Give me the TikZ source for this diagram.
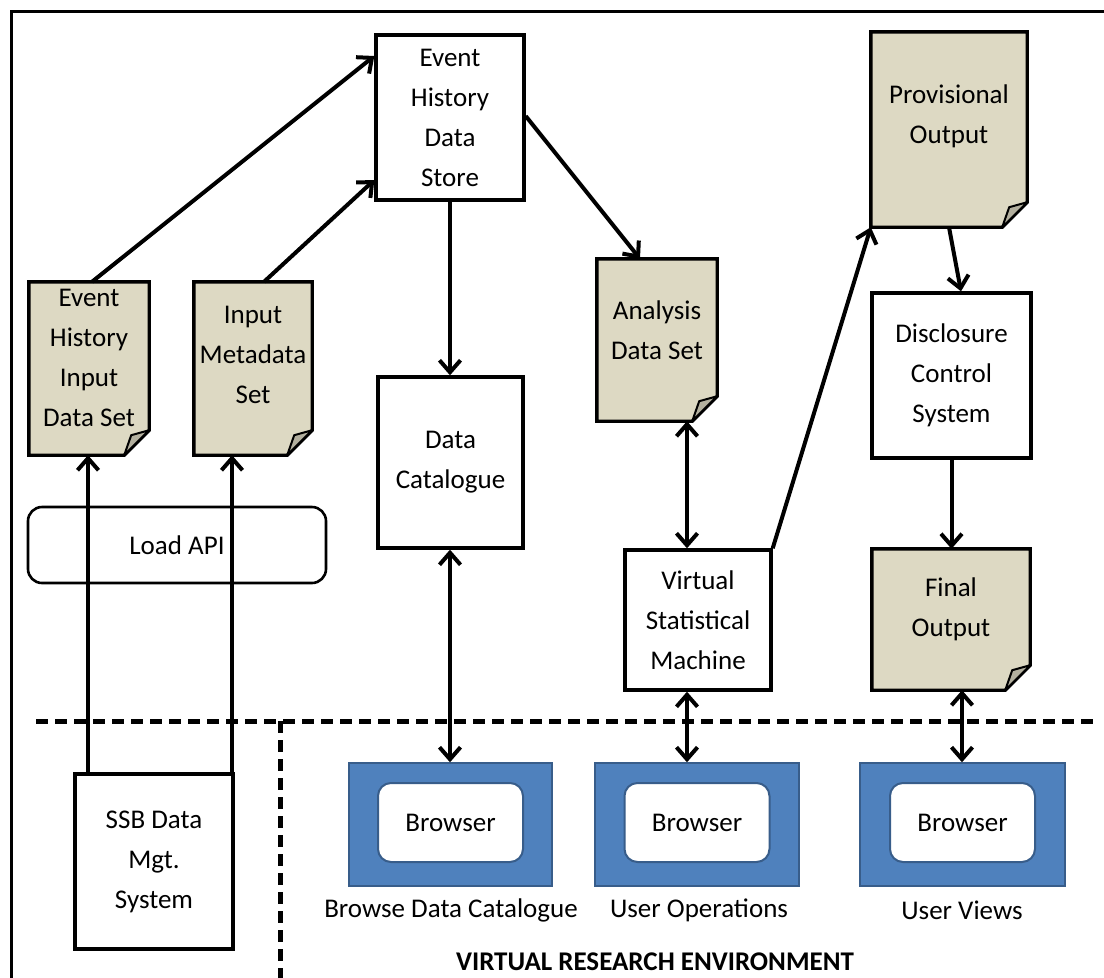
\documentclass[tikz,border=0pt]{standalone}
\usepackage{fontspec}
\setmainfont{Carlito}
\usetikzlibrary{arrows.meta}
\definecolor{tan}{HTML}{DDD9C3}
\definecolor{foldc}{HTML}{B3B09F}
\definecolor{bblue}{HTML}{4F81BD}
\definecolor{bdark}{HTML}{385D8A}
\newcommand{\foldsz}{25pt}
\newcommand{\mydoc}[5]{%
  \node[docnode, minimum width=#4pt, minimum height=#5pt] (#1) at (#2,#3) {};
  \draw[docline] (#1.north west) -- (#1.north east) -- ([yshift=\foldsz]#1.south east)
     -- ([xshift=-\foldsz]#1.south east) -- (#1.south west) -- cycle;
  \draw[foldline] ([xshift=-\foldsz]#1.south east) -- ([xshift=-18pt,yshift=20pt]#1.south east)
     -- ([yshift=\foldsz]#1.south east) -- cycle;
}
\begin{document}
\begin{tikzpicture}[x=1pt,y=-1pt,
  every node/.style={font=\fontsize{27}{40}\selectfont, align=center, inner sep=0pt},
  docnode/.style={draw=none},
  docline/.style={fill=tan, draw=black, line width=3.4pt, line join=miter},
  foldline/.style={fill=foldc, draw=black, line width=2pt, line join=round},
  txt/.style={},
  boxnode/.style={draw=black, fill=white, line width=3.4pt},
  apibox/.style={draw=black, fill=white, line width=2.6pt, rounded corners=14pt},
  outerb/.style={draw=bdark, fill=bblue, line width=1.5pt},
  innerb/.style={draw=bdark, fill=white, line width=2pt, rounded corners=13pt},
  arr/.style={line width=4pt, -{Straight Barb[length=12pt,width=21pt]}},
  dbl/.style={line width=4pt, {Straight Barb[length=12pt,width=21pt]}-{Straight Barb[length=12pt,width=21pt]}},
  sepline/.style={line width=5pt, dash pattern=on 12pt off 7pt}
]
\useasboundingbox (0,0) rectangle (1104,978);
\fill[white] (0,0) rectangle (1104,978);
% outer frame
\coordinate (fa) at (11,978);
\coordinate (fb) at (11,11);
\coordinate (fc) at (1104,11);
\draw[line width=3pt] (fa) -- (fb) -- (fc);

% dashed separators
\coordinate (h1) at (36,721);
\coordinate (h2) at (1097,721);
\coordinate (v1) at (280,721);
\coordinate (v2) at (280,978);
\draw[sepline] (h1) -- (h2);
\draw[sepline] (v1) -- (v2);

% Load API
\node[apibox, minimum width=298pt, minimum height=76pt] (api) at (177,545) {Load API};

% boxes
\node[boxnode, minimum width=148pt, minimum height=165pt] (ehds) at (450,117.5) {Event\\History\\Data\\Store};
\node[boxnode, minimum width=145pt, minimum height=171pt] (dc) at (450.5,462.5) {Data\\Catalogue};
\node[boxnode, minimum width=159pt, minimum height=165pt] (dcs) at (951.5,375.5) {Disclosure\\Control\\System};
\node[boxnode, minimum width=146pt, minimum height=140pt] (vsm) at (698,620) {Virtual\\Statistical\\Machine};
\node[boxnode, minimum width=158pt, minimum height=175pt] (ssb) at (154,861.5) {SSB Data\\Mgt.\\System};

% documents
\mydoc{ehi}{89}{368.5}{120}{173}
\node[txt] (ehit) at (89,358) {Event\\History\\Input\\Data Set};
\mydoc{ims}{253}{368.5}{118}{173}
\node[txt] (imst) at (253,355) {Input\\Metadata\\Set};
\mydoc{ads}{657}{340}{120}{162}
\node[txt] (adst) at (657,330) {Analysis\\Data Set};
\mydoc{po}{949}{129.5}{156}{195}
\node[txt] (pot) at (949,116) {Provisional\\Output};
\mydoc{fo}{951}{619.5}{158}{141}
\node[txt] (fot) at (951,609) {Final\\Output};

% browsers
\node[outerb, minimum width=203pt, minimum height=123pt] (b1) at (450.5,824.5) {};
\node[innerb, minimum width=145pt, minimum height=79pt] (b1i) at (450.5,822.5) {Browser};
\node[outerb, minimum width=204pt, minimum height=123pt] (b2) at (697,824.5) {};
\node[innerb, minimum width=145pt, minimum height=79pt] (b2i) at (697,822.5) {Browser};
\node[outerb, minimum width=205pt, minimum height=123pt] (b3) at (962.5,824.5) {};
\node[innerb, minimum width=145pt, minimum height=79pt] (b3i) at (962.5,822.5) {Browser};

\node (l1) at (451,910) {Browse Data Catalogue};
\node (l2) at (699,910) {User Operations};
\node (l3) at (962,910) {User Views};
\node[font=\fontsize{27}{40}\selectfont\bfseries] (vre) at (655,962) {VIRTUAL RESEARCH ENVIRONMENT};

% connectors
\draw[arr] (ssb.north -| 88,0) -- (ehi.south -| 88,0);
\draw[arr] (ssb.north -| 232,0) -- (ims.south -| 232,0);
\draw[arr] (ehi.north -| 92,0) -- (ehds.west |- 0,56);
\draw[arr] (ims.north -| 264,0) -- (ehds.west |- 0,180);
\draw[arr] (ehds.south) -- (dc.north -| ehds.south);
\draw[arr] (ehds.east |- 0,116) -- (ads.north -| 640,0);
\draw[dbl] (ads.south -| 687,0) -- (vsm.north -| 687,0);
\draw[arr] (vsm.north east) -- (po.south west);
\draw[arr] (po.south) -- (dcs.north -| 961,0);
\draw[arr] (dcs.south) -- (fo.north -| dcs.south);
\draw[dbl] (dc.south -| 450,0) -- (b1.north -| 450,0);
\draw[dbl] (vsm.south -| 687,0) -- (b2.north -| 687,0);
\draw[dbl] (fo.south -| 962,0) -- (b3.north -| 962,0);
\end{tikzpicture}
\end{document}
